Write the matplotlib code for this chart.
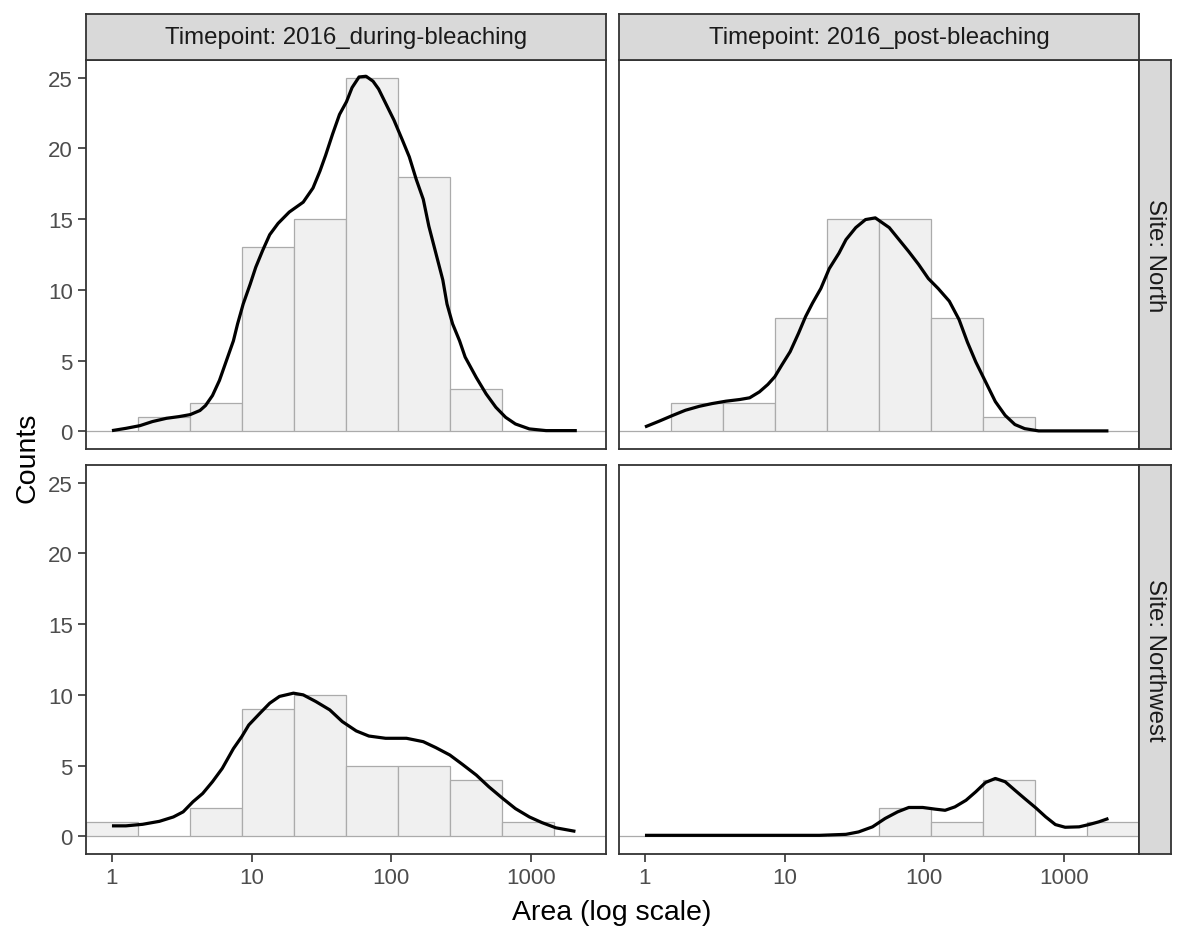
import numpy as np
import matplotlib
matplotlib.use('Agg')
import matplotlib.pyplot as plt

plt.rcParams['font.family'] = ['Liberation Sans', 'DejaVu Sans']

W, H = 1179, 929

timepoints = ['2016_during-bleaching', '2016_post-bleaching']
sites = ['North', 'Northwest']

# histogram bins, in log10(area)
bin_edges_log = [-0.186, 0.186, 0.559, 0.931, 1.304, 1.676, 2.048, 2.421, 2.793, 3.166, 3.539]

counts_north_during = [0, 1, 2, 13, 15, 25, 18, 3, 0, 0]
counts_north_post = [0, 2, 2, 8, 15, 15, 8, 1, 0, 0]
counts_nw_during = [1, 0, 2, 9, 10, 5, 5, 4, 1, 0]
counts_nw_post = [0, 0, 0, 0, 0, 2, 1, 4, 0, 1]

# density curves (scaled to counts); x in log10(area)
dens_north_during_x = [0.0, 0.10, 0.20, 0.29, 0.39, 0.48, 0.56, 0.63, 0.67, 0.72, 0.77, 0.82, 0.87,
                       0.90, 0.94, 0.99, 1.03, 1.08, 1.13, 1.19, 1.27, 1.37, 1.44, 1.49, 1.53, 1.58,
                       1.63, 1.68, 1.72, 1.77, 1.82, 1.87, 1.91, 1.96, 2.02, 2.08, 2.13, 2.18, 2.23,
                       2.27, 2.32, 2.37, 2.40, 2.44, 2.49, 2.53, 2.61, 2.68, 2.75, 2.82, 2.89, 2.99,
                       3.11, 3.23, 3.33]
dens_north_during_y = [0.05, 0.21, 0.40, 0.69, 0.92, 1.04, 1.18, 1.47, 1.82, 2.53, 3.6, 5.0, 6.4,
                       7.6, 9.0, 10.4, 11.6, 12.8, 13.9, 14.7, 15.5, 16.2, 17.2, 18.4, 19.5, 21.0,
                       22.4, 23.3, 24.3, 25.05, 25.1, 24.75, 24.2, 23.2, 22.0, 20.6, 19.4, 17.8, 16.4,
                       14.5, 12.6, 10.7, 9.0, 7.6, 6.4, 5.25, 3.8, 2.65, 1.7, 0.99, 0.52, 0.17,
                       0.05, 0.05, 0.05]

dens_north_post_x = [0.0, 0.10, 0.20, 0.29, 0.39, 0.48, 0.58, 0.68, 0.75, 0.82, 0.88, 0.93, 0.98,
                     1.04, 1.10, 1.15, 1.20, 1.26, 1.32, 1.39, 1.44, 1.51, 1.58, 1.65, 1.75, 1.82,
                     1.89, 1.96, 2.03, 2.10, 2.18, 2.25, 2.31, 2.37, 2.44, 2.51, 2.58, 2.65, 2.72,
                     2.82, 2.99, 3.15, 3.32]
dens_north_post_y = [0.31, 0.71, 1.13, 1.49, 1.77, 1.96, 2.13, 2.25, 2.37, 2.79, 3.31, 3.86, 4.68,
                     5.63, 6.93, 8.1, 9.06, 10.1, 11.5, 12.6, 13.55, 14.4, 14.97, 15.09, 14.4, 13.55,
                     12.7, 11.8, 10.8, 10.1, 9.2, 7.9, 6.3, 4.9, 3.5, 2.1, 1.13, 0.48, 0.19,
                     0.03, 0.03, 0.03, 0.03]

dens_nw_during_x = [0.0, 0.10, 0.22, 0.34, 0.44, 0.51, 0.58, 0.65, 0.72, 0.79, 0.87, 0.93, 0.98,
                    1.06, 1.13, 1.20, 1.30, 1.37, 1.46, 1.56, 1.65, 1.75, 1.84, 1.96, 2.11, 2.23,
                    2.32, 2.42, 2.51, 2.61, 2.70, 2.80, 2.89, 2.99, 3.08, 3.18, 3.32]
dens_nw_during_y = [0.74, 0.74, 0.85, 1.06, 1.37, 1.73, 2.44, 3.03, 3.86, 4.8, 6.2, 7.05, 7.87,
                    8.7, 9.41, 9.89, 10.12, 10.0, 9.53, 8.94, 8.11, 7.45, 7.09, 6.93, 6.93, 6.69,
                    6.27, 5.75, 5.09, 4.33, 3.5, 2.67, 1.96, 1.37, 0.97, 0.60, 0.35]

dens_nw_post_x = [0.0, 0.53, 1.25, 1.44, 1.53, 1.63, 1.72, 1.81, 1.89, 1.99, 2.08, 2.15, 2.22,
                  2.30, 2.37, 2.44, 2.51, 2.58, 2.65, 2.72, 2.80, 2.87, 2.94, 3.01, 3.11, 3.18,
                  3.25, 3.32]
dens_nw_post_y = [0.07, 0.07, 0.07, 0.14, 0.31, 0.67, 1.26, 1.73, 2.04, 2.04, 1.92, 1.84, 2.08,
                  2.55, 3.15, 3.81, 4.09, 3.86, 3.26, 2.67, 2.01, 1.38, 0.83, 0.64, 0.67, 0.83,
                  1.02, 1.26]

counts = {('North', '2016_during-bleaching'): counts_north_during,
          ('North', '2016_post-bleaching'): counts_north_post,
          ('Northwest', '2016_during-bleaching'): counts_nw_during,
          ('Northwest', '2016_post-bleaching'): counts_nw_post}
curves = {('North', '2016_during-bleaching'): (dens_north_during_x, dens_north_during_y),
          ('North', '2016_post-bleaching'): (dens_north_post_x, dens_north_post_y),
          ('Northwest', '2016_during-bleaching'): (dens_nw_during_x, dens_nw_during_y),
          ('Northwest', '2016_post-bleaching'): (dens_nw_post_x, dens_nw_post_y)}


def box(x, y, w, h):
    # pixel box (top-left origin) -> figure fraction
    return [x / W, 1 - (y + h) / H, w / W, h / H]


BORDER = '#333333'
col_x = [86, 619]
row_y = [61, 466]
pw, ph = 520, 389

fig = plt.figure(figsize=(W / 100, H / 100), dpi=100)

edges = 10 ** np.array(bin_edges_log)
for r, site in enumerate(sites):
    for c, tp in enumerate(timepoints):
        ax = fig.add_axes(box(col_x[c], row_y[r], pw, ph))
        ax.set_xscale('log')
        ax.bar(edges[:-1], counts[(site, tp)], width=edges[1:] - edges[:-1], align='edge',
               color='#F0F0F0', edgecolor='#ABABAB', linewidth=0.9, zorder=2)
        cx, cy = curves[(site, tp)]
        ax.plot(10 ** np.array(cx), cy, color='black', lw=2.3, zorder=3,
                solid_capstyle='butt', solid_joinstyle='round')
        ax.set_xlim(edges[0], edges[-1])
        ax.set_ylim(-1.25, 26.25)
        ax.minorticks_off()
        ax.set_xticks([1, 10, 100, 1000])
        ax.set_xticklabels(['1', '10', '100', '1000'])
        ax.set_yticks([0, 5, 10, 15, 20, 25])
        ax.tick_params(direction='out', length=5.5, width=1.2, color=BORDER,
                       labelsize=16, labelcolor='#4D4D4D', pad=4)
        if r == 0:
            ax.tick_params(axis='x', bottom=False, labelbottom=False)
        if c == 1:
            ax.tick_params(axis='y', left=False, labelleft=False)
        for s in ax.spines.values():
            s.set_color(BORDER)
            s.set_linewidth(1.3)
            s.set_zorder(5)

        # top strips
        if r == 0:
            st = fig.add_axes(box(col_x[c], 15, pw, 46))
            st.set_facecolor('#D9D9D9')
            st.set_xticks([])
            st.set_yticks([])
            for s in st.spines.values():
                s.set_color(BORDER)
                s.set_linewidth(1.3)
            st.text(0.5, 0.5, f'Timepoint: {tp}', ha='center', va='center',
                    fontsize=17.3, color='#1A1A1A', transform=st.transAxes)
        # right strips
        if c == 1:
            st = fig.add_axes(box(1139, row_y[r], 32, ph))
            st.set_facecolor('#D9D9D9')
            st.set_xticks([])
            st.set_yticks([])
            for s in st.spines.values():
                s.set_color(BORDER)
                s.set_linewidth(1.3)
            st.text(0.5, 0.5, f'Site: {site}', ha='center', va='center', rotation=270,
                    fontsize=17.3, color='#1A1A1A', transform=st.transAxes)

fig.text(612 / W, 1 - 913 / H, 'Area (log scale)', ha='center', va='center', fontsize=20.5)
fig.text(27 / W, 1 - 458 / H, 'Counts', ha='center', va='center', rotation=90, fontsize=20.5)

fig.savefig('out.png', dpi=100, facecolor='white')
